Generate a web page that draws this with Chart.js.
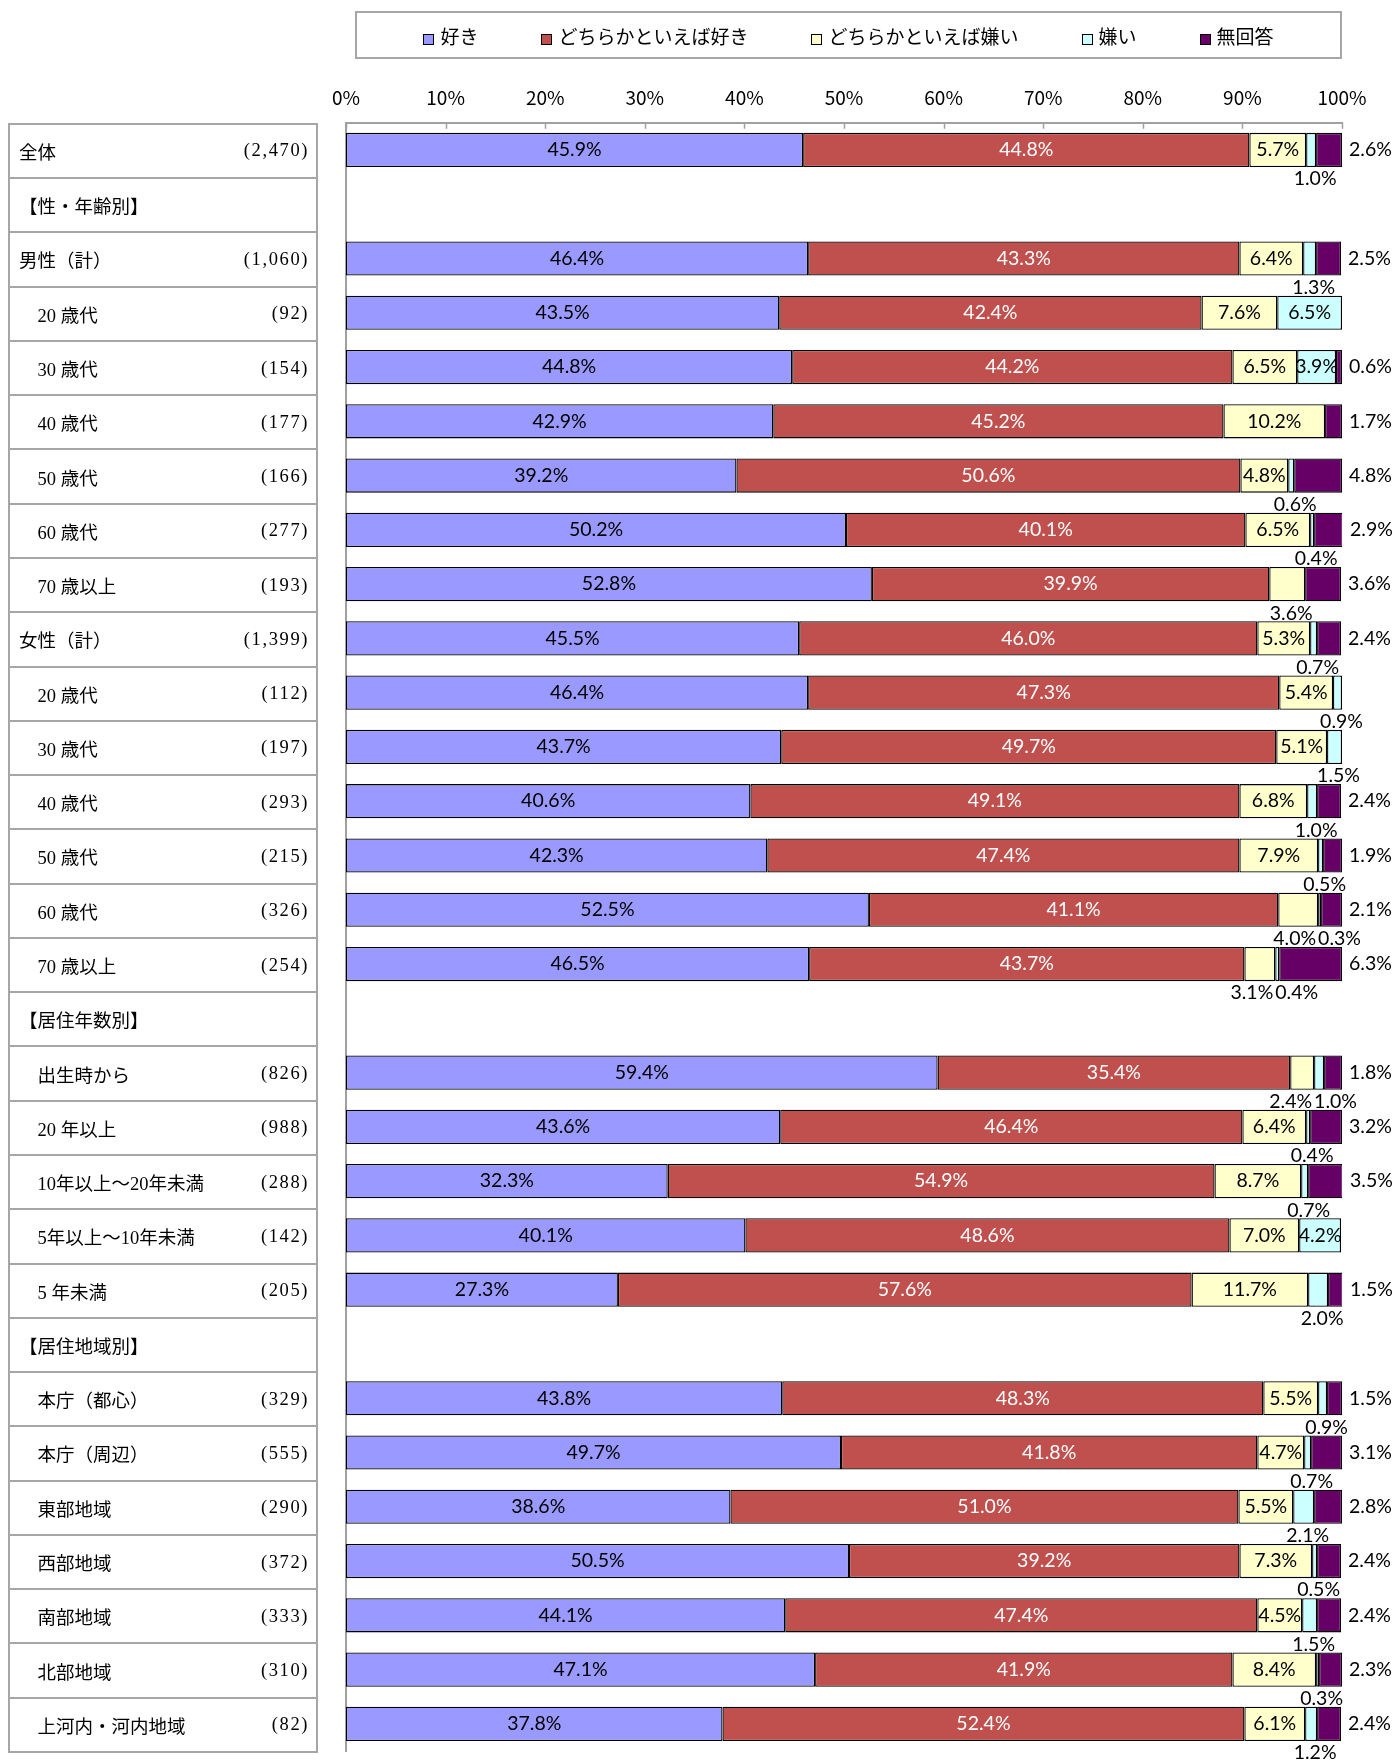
<!DOCTYPE html>
<html lang="ja">
<head>
<meta charset="utf-8">
<script src="https://cdn.jsdelivr.net/npm/chart.js@4.4.0/dist/chart.umd.min.js"></script>
<style>
  body { margin: 0; background: #fff; }
  #wrap { position: relative; width: 1394px; height: 1760px; overflow: hidden; }
  #c { position: absolute; left: 0; top: 0; }
  .legend {
    position: absolute; left: 355px; top: 11px; width: 983px; height: 44px;
    border: 2px solid #a6a6a6; display: flex; align-items: center; justify-content: center;
    gap: 63px; font: 19px "Noto Sans CJK JP"; color: #000;
  }
  .legend .box { display: inline-block; width: 9px; height: 9px; border: 1px solid #000; margin-right: 6px; vertical-align: -1px; }
  .row {
    position: absolute; left: 8px; width: 310px; box-sizing: border-box;
    border: 2px solid #a6a6a6; border-bottom: none;
    font: 18.5px "Liberation Serif", "Noto Sans CJK JP"; color: #000;
    display: flex; align-items: center; justify-content: space-between;
    padding: 0 7px 0 9px; white-space: pre;
  }
  .row.last { border-bottom: 2px solid #a6a6a6; }
  .row .n { letter-spacing: 1.6px; }
</style>
</head>
<body>
<div id="wrap">
  <canvas id="c" width="1394" height="1760"></canvas>
  <div class="legend" id="legend"></div>
</div>
<script>
// rows of the table (header rows have no bars)
const categories = [
  "全体", "【性・年齢別】", "男性（計）", "　20 歳代", "　30 歳代", "　40 歳代", "　50 歳代", "　60 歳代", "　70 歳以上",
  "女性（計）", "　20 歳代", "　30 歳代", "　40 歳代", "　50 歳代", "　60 歳代", "　70 歳以上",
  "【居住年数別】", "　出生時から", "　20 年以上", "　10年以上～20年未満", "　5年以上～10年未満", "　5 年未満",
  "【居住地域別】", "　本庁（都心）", "　本庁（周辺）", "　東部地域", "　西部地域", "　南部地域", "　北部地域", "　上河内・河内地域"
];
const counts = [
  "(2,470)", "", "(1,060)", "(92)", "(154)", "(177)", "(166)", "(277)", "(193)",
  "(1,399)", "(112)", "(197)", "(293)", "(215)", "(326)", "(254)",
  "", "(826)", "(988)", "(288)", "(142)", "(205)",
  "", "(329)", "(555)", "(290)", "(372)", "(333)", "(310)", "(82)"
];

const seriesNames = ["好き", "どちらかといえば好き", "どちらかといえば嫌い", "嫌い", "無回答"];

const like = [45.9, null, 46.4, 43.5, 44.8, 42.9, 39.2, 50.2, 52.8,
  45.5, 46.4, 43.7, 40.6, 42.3, 52.5, 46.5,
  null, 59.4, 43.6, 32.3, 40.1, 27.3,
  null, 43.8, 49.7, 38.6, 50.5, 44.1, 47.1, 37.8];
const ratherLike = [44.8, null, 43.3, 42.4, 44.2, 45.2, 50.6, 40.1, 39.9,
  46.0, 47.3, 49.7, 49.1, 47.4, 41.1, 43.7,
  null, 35.4, 46.4, 54.9, 48.6, 57.6,
  null, 48.3, 41.8, 51.0, 39.2, 47.4, 41.9, 52.4];
const ratherDislike = [5.7, null, 6.4, 7.6, 6.5, 10.2, 4.8, 6.5, 3.6,
  5.3, 5.4, 5.1, 6.8, 7.9, 4.0, 3.1,
  null, 2.4, 6.4, 8.7, 7.0, 11.7,
  null, 5.5, 4.7, 5.5, 7.3, 4.5, 8.4, 6.1];
const dislike = [1.0, null, 1.3, 6.5, 3.9, 0, 0.6, 0.4, 0,
  0.7, 0.9, 1.5, 1.0, 0.5, 0.3, 0.4,
  null, 1.0, 0.4, 0.7, 4.2, 2.0,
  null, 0.9, 0.7, 2.1, 0.5, 1.5, 0.3, 1.2];
const noAnswer = [2.6, null, 2.5, 0, 0.6, 1.7, 4.8, 2.9, 3.6,
  2.4, 0, 0, 2.4, 1.9, 2.1, 6.3,
  null, 1.8, 3.2, 3.5, 0, 1.5,
  null, 1.5, 3.1, 2.8, 2.4, 2.4, 2.3, 2.4];

const xTicks = [0, 10, 20, 30, 40, 50, 60, 70, 80, 90, 100];

const seriesValues = [like, ratherLike, ratherDislike, dislike, noAnswer];
const seriesColors = ["#9999FF", "#C0504D", "#FFFFCC", "#CCFFFF", "#660066"];
const labelFont = '19.5px Lato';

// small tick marks pointing into the plot from the top axis line
const innerTicks = {
  id: 'innerTicks',
  afterDraw(chart) {
    const ctx = chart.ctx, sx = chart.scales.x, top = chart.chartArea.top;
    ctx.save();
    ctx.strokeStyle = '#a0a0a0';
    ctx.lineWidth = 1.5;
    ctx.beginPath();
    xTicks.forEach(v => {
      const x = Math.round(sx.getPixelForValue(v)) + 0.5;
      ctx.moveTo(x, top);
      ctx.lineTo(x, top + 6);
    });
    ctx.stroke();
    ctx.restore();
  }
};

// percentage labels: inside, below the bar, or right of it
const valueLabels = {
  id: 'valueLabels',
  afterDatasetsDraw(chart) {
    const ctx = chart.ctx;
    ctx.save();
    ctx.font = labelFont;
    ctx.textBaseline = 'middle';
    const fmt = v => v.toFixed(1) + '%';
    categories.forEach((c, i) => {
      if (like[i] == null) return;
      const els = chart.data.datasets.map((d, k) => chart.getDatasetMeta(k).data[i]);
      const below = [];
      els.forEach((el, k) => {
        const v = seriesValues[k][i];
        if (!v) return;
        const cx = (el.x + el.base) / 2;
        if (k === 4) {
          ctx.fillStyle = '#000';
          ctx.textAlign = 'left';
          ctx.fillText(fmt(v), el.x + 7, el.y);
          return;
        }
        const inside = k < 2 || (k === 2 && v >= 4.5) || (k === 3 && v >= 3.5);
        if (inside) {
          ctx.fillStyle = k === 1 ? '#fff' : '#000';
          ctx.textAlign = 'center';
          ctx.fillText(fmt(v), cx, el.y);
        } else {
          below.push({k, v, el, cx});
        }
      });
      ctx.fillStyle = '#000';
      if (below.length === 2) {
        const [a, b] = below;
        const yb = a.el.y + a.el.height / 2 + 12;
        ctx.textAlign = 'right';
        ctx.fillText(fmt(a.v), a.el.x - 2, yb);
        ctx.textAlign = 'left';
        ctx.fillText(fmt(b.v), a.el.x, yb);
      } else if (below.length === 1) {
        const b = below[0];
        ctx.textAlign = 'center';
        ctx.fillText(fmt(b.v), b.cx + 4, b.el.y + b.el.height / 2 + 12);
      }
    });
    ctx.restore();
  }
};

const chart = new Chart(document.getElementById('c'), {
  type: 'bar',
  data: {
    labels: categories,
    datasets: seriesNames.map((name, k) => ({
      label: name,
      data: seriesValues[k],
      backgroundColor: seriesColors[k],
      borderColor: '#000',
      borderWidth: 1.3,
      borderSkipped: false,
      inflateAmount: 0,
      barPercentage: 0.63,
      categoryPercentage: 1
    }))
  },
  options: {
    indexAxis: 'y',
    responsive: false,
    animation: false,
    layout: { padding: { left: 338, right: 52, top: 80, bottom: 9 } },
    plugins: { legend: { display: false }, tooltip: { enabled: false } },
    scales: {
      x: {
        position: 'top', stacked: true, min: 0, max: 100,
        afterBuildTicks: s => { s.ticks = xTicks.map(v => ({ value: v })); },
        ticks: { callback: v => v + '%', padding: 6, maxRotation: 0, color: '#000',
                 font: { family: '"Noto Sans CJK JP"', size: 19 } },
        grid: { display: false },
        border: { display: true, color: '#a0a0a0', width: 2 }
      },
      y: {
        stacked: true,
        ticks: { display: false },
        grid: { display: false },
        border: { display: true, color: '#a0a0a0', width: 2 }
      }
    }
  },
  plugins: [innerTicks, valueLabels]
});

// legend
const legend = document.getElementById('legend');
seriesNames.forEach((name, k) => {
  const item = document.createElement('span');
  const box = document.createElement('span');
  box.className = 'box';
  box.style.background = seriesColors[k];
  item.appendChild(box);
  item.appendChild(document.createTextNode(name));
  legend.appendChild(item);
});

// table of row labels, lined up with the category axis
const wrap = document.getElementById('wrap');
const area = chart.chartArea;
const step = (area.bottom - area.top) / categories.length;
categories.forEach((name, i) => {
  const row = document.createElement('div');
  row.className = 'row' + (i === categories.length - 1 ? ' last' : '');
  row.style.top = (area.top + i * step) + 'px';
  row.style.height = (step + (i === categories.length - 1 ? 2 : 0)) + 'px';
  const a = document.createElement('span');
  a.textContent = name;
  const b = document.createElement('span');
  b.className = 'n';
  b.textContent = counts[i];
  row.appendChild(a);
  row.appendChild(b);
  wrap.appendChild(row);
});
</script>
</body>
</html>
